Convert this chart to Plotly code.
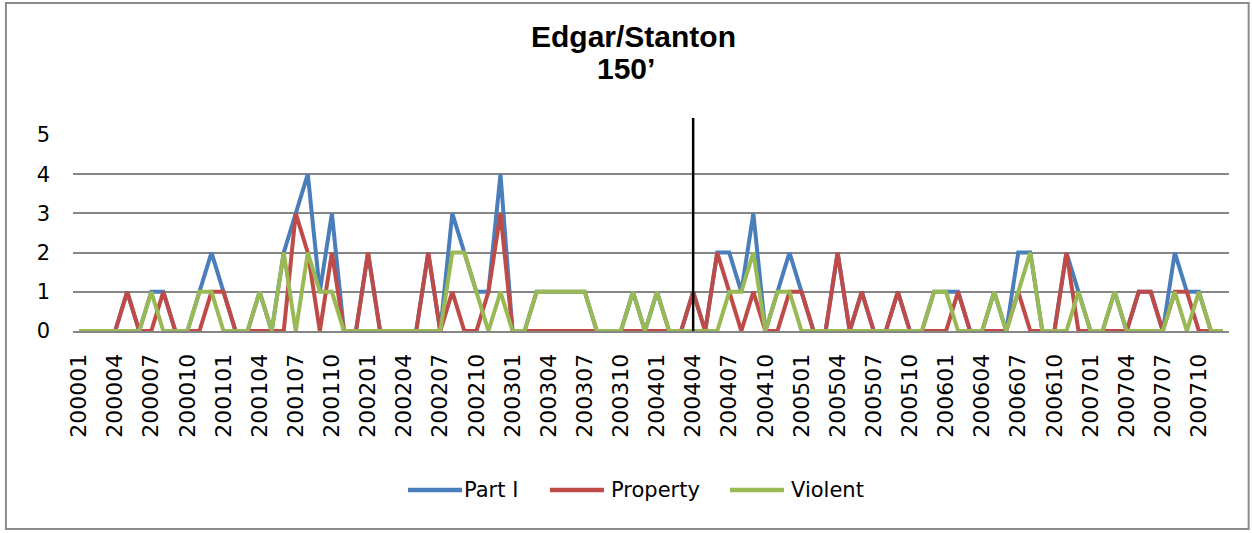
import plotly.graph_objects as go

# monthly categories 200001 .. 200712
months = [f"{year}{month:02d}" for year in range(2000, 2008) for month in range(1, 13)]
tick_labels = months[::3]

part_i = [
    0, 0, 0, 0, 1, 0, 1, 1, 0, 0, 1, 2,
    1, 0, 0, 1, 0, 2, 3, 4, 1, 3, 0, 0,
    2, 0, 0, 0, 0, 2, 0, 3, 2, 1, 1, 4,
    0, 0, 1, 1, 1, 1, 1, 0, 0, 0, 1, 0,
    1, 0, 0, 1, 0, 2, 2, 1, 3, 0, 1, 2,
    1, 0, 0, 2, 0, 1, 0, 0, 1, 0, 0, 1,
    1, 1, 0, 0, 1, 0, 2, 2, 0, 0, 2, 1,
    0, 0, 1, 0, 1, 1, 0, 2, 1, 1, 0, 0,
]
property_crime = [
    0, 0, 0, 0, 1, 0, 0, 1, 0, 0, 0, 1,
    1, 0, 0, 0, 0, 0, 3, 2, 0, 2, 0, 0,
    2, 0, 0, 0, 0, 2, 0, 1, 0, 0, 1, 3,
    0, 0, 0, 0, 0, 0, 0, 0, 0, 0, 0, 0,
    0, 0, 0, 1, 0, 2, 1, 0, 1, 0, 0, 1,
    1, 0, 0, 2, 0, 1, 0, 0, 1, 0, 0, 0,
    0, 1, 0, 0, 0, 0, 1, 0, 0, 0, 2, 0,
    0, 0, 0, 0, 1, 1, 0, 1, 1, 0, 0, 0,
]
violent = [
    0, 0, 0, 0, 0, 0, 1, 0, 0, 0, 1, 1,
    0, 0, 0, 1, 0, 2, 0, 2, 1, 1, 0, 0,
    0, 0, 0, 0, 0, 0, 0, 2, 2, 1, 0, 1,
    0, 0, 1, 1, 1, 1, 1, 0, 0, 0, 1, 0,
    1, 0, 0, 0, 0, 0, 1, 1, 2, 0, 1, 1,
    0, 0, 0, 0, 0, 0, 0, 0, 0, 0, 0, 1,
    1, 0, 0, 0, 1, 0, 1, 2, 0, 0, 0, 1,
    0, 0, 1, 0, 0, 0, 0, 1, 0, 1, 0, 0,
]

series = [
    ("Part I", part_i, "#4A7EBB"),
    ("Property", property_crime, "#BE4B48"),
    ("Violent", violent, "#98B954"),
]
# vertical marker at the intervention month
marker_month = "200404"

label_font = {"family": "DejaVu Sans", "size": 21, "color": "black"}
xtick_font = {"family": "DejaVu Sans", "size": 22, "color": "black"}
title_font = {"family": "Liberation Sans", "size": 30, "color": "black"}
grid_color = "#868686"

fig = go.Figure()

for name, values, color in series:
    fig.add_trace(
        go.Scatter(
            x=months,
            y=values,
            name=name,
            mode="lines",
            line={"color": color, "width": 4},
            cliponaxis=False,
            showlegend=False,
        )
    )

# marker line runs a little above the plot area, so place it in paper units
# (category axis spans -0.5 .. n-0.5)
marker_x = (months.index(marker_month) + 0.5) / len(months)
fig.add_shape(
    type="line",
    xref="paper",
    yref="paper",
    x0=marker_x,
    x1=marker_x,
    y0=0,
    y1=1.087,
    line={"color": "black", "width": 2.5},
    layer="above",
)

# chart border
fig.add_shape(
    type="rect",
    xref="paper",
    yref="paper",
    x0=-0.058,
    x1=1.017,
    y0=-1.01,
    y1=1.673,
    line={"color": "#8c8c8c", "width": 2},
    layer="below",
)

# title, two lines
fig.add_annotation(
    text="<b>Edgar/Stanton</b>", xref="paper", yref="paper", x=0.485, y=1.505,
    xanchor="center", yanchor="middle", showarrow=False, font=title_font,
)
fig.add_annotation(
    text="<b>150’</b>", xref="paper", yref="paper", x=0.478, y=1.337,
    xanchor="center", yanchor="middle", showarrow=False, font=title_font,
)

# legend drawn by hand so the line samples are as long as in Excel
legend_y = -0.811
legend_slots = [(0.2898, 0.3365), (0.4126, 0.4637), (0.5683, 0.6194)]
for (name, _, color), (x_line, x_text) in zip(series, legend_slots):
    fig.add_shape(
        type="line",
        xref="paper",
        yref="paper",
        x0=x_line,
        x1=x_line + 0.0467,
        y0=legend_y,
        y1=legend_y,
        line={"color": color, "width": 4.5},
    )
    fig.add_annotation(
        text=name, xref="paper", yref="paper", x=x_text, y=legend_y,
        xanchor="left", yanchor="middle", showarrow=False, font=label_font,
    )

fig.update_xaxes(
    type="category",
    categoryorder="array",
    categoryarray=months,
    range=[-0.5, len(months) - 0.5],
    tickmode="array",
    tickvals=tick_labels,
    ticktext=tick_labels,
    tickangle=-90,
    tickfont=xtick_font,
    ticklabelstandoff=12,
    showgrid=False,
    showline=True,
    linecolor=grid_color,
    linewidth=2,
    zeroline=False,
)
fig.update_yaxes(
    range=[0, 5],
    dtick=1,
    tickfont=label_font,
    ticklabelstandoff=22,
    showgrid=True,
    gridcolor=grid_color,
    gridwidth=1.5,
    zeroline=False,
    showline=False,
)

fig.update_layout(
    width=1252,
    height=533,
    plot_bgcolor="white",
    paper_bgcolor="white",
    margin={"l": 73, "r": 23, "t": 135, "b": 202},
    showlegend=False,
)

fig.write_html(
    "out.html",
    config={"displayModeBar": False},
    post_script="document.body.style.margin = '0';",
)
